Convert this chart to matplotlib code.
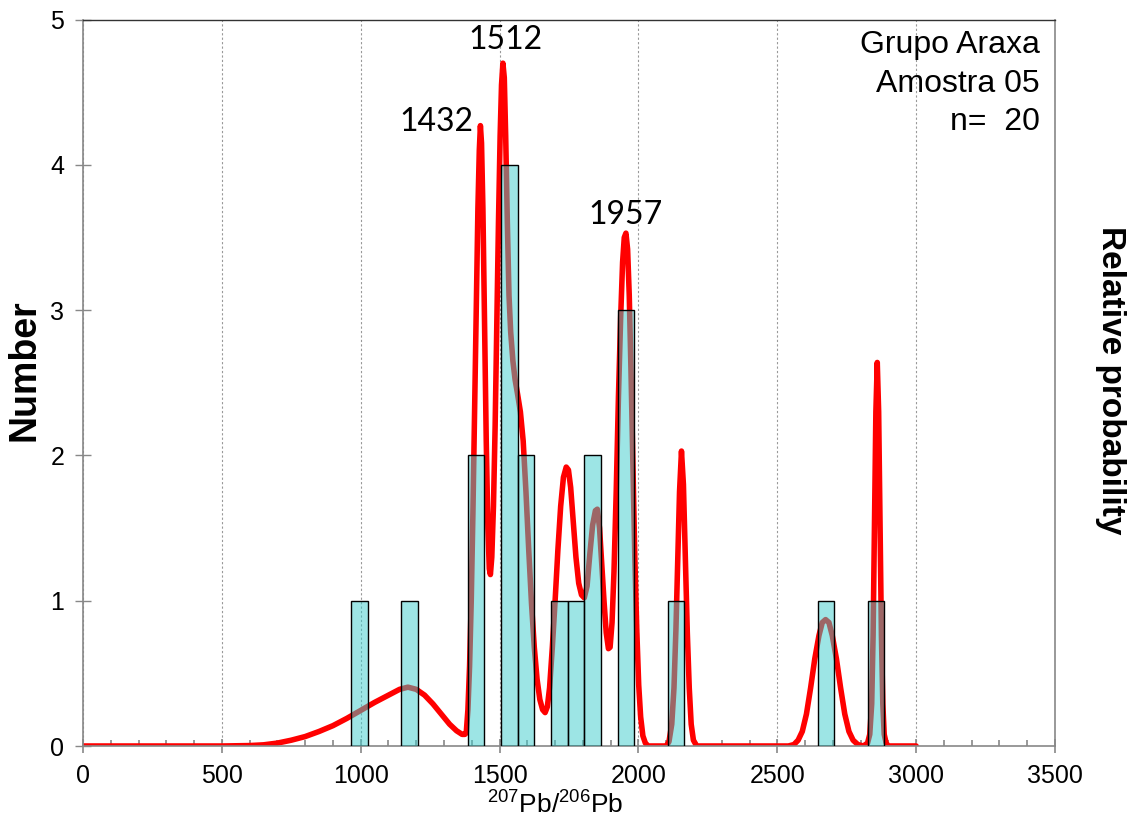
import numpy as np
import matplotlib
matplotlib.use("Agg")
import matplotlib.pyplot as plt
from matplotlib.ticker import MultipleLocator

plt.rcParams['font.family'] = ['Liberation Sans', 'DejaVu Sans']
plt.rcParams['mathtext.default'] = 'regular'

# --- histogram (bin width 60 Ma) ---
bin_left = [965, 1145, 1385, 1505, 1565, 1685, 1745, 1805, 1925, 2105, 2645, 2825]
counts = [1, 1, 2, 4, 2, 1, 1, 2, 3, 1, 1, 1]
bin_width = 60

# --- relative probability curve ---
curve_x = [0, 500, 600, 650, 700, 750, 800, 850, 900, 950, 1000, 1050, 1100, 1140,
           1170, 1200, 1230, 1260, 1290, 1320, 1345, 1365, 1375,
           1380, 1386, 1392, 1398, 1404, 1410, 1416, 1422, 1427, 1431, 1435, 1440,
           1446, 1452, 1458, 1463, 1467, 1472, 1478, 1484, 1490, 1496, 1502, 1507,
           1512, 1517, 1522, 1528, 1534, 1540, 1548, 1556, 1565, 1575, 1585,
           1595, 1605, 1615, 1625, 1635, 1645, 1655, 1664, 1672, 1680, 1690, 1700,
           1710, 1720, 1730, 1740, 1748, 1756, 1765, 1775, 1785, 1795, 1805, 1815,
           1825, 1835, 1845, 1852, 1860, 1868, 1876, 1884, 1892, 1898, 1905, 1912,
           1920, 1928, 1936, 1943, 1949, 1955, 1961, 1967, 1973, 1980, 1987, 1994,
           2001, 2008, 2016, 2025, 2035, 2100, 2110, 2120, 2128, 2135, 2142, 2148,
           2155, 2162, 2169, 2176, 2183, 2190, 2198, 2210, 2540, 2560, 2575, 2590,
           2605, 2620, 2635, 2650, 2662, 2674, 2686, 2698, 2713, 2728, 2743, 2758,
           2773, 2790, 2810, 2825, 2833, 2840, 2845, 2850, 2855, 2860, 2865, 2870,
           2875, 2880, 2885, 2892, 2900, 3000]
curve_y = [0, 0, 0.003, 0.008, 0.02, 0.04, 0.065, 0.10, 0.14, 0.19, 0.245, 0.30, 0.35, 0.39,
           0.405, 0.39, 0.35, 0.29, 0.22, 0.15, 0.105, 0.08, 0.08,
           0.09, 0.25, 0.55, 1.0, 1.6, 2.3, 3.0, 3.7, 4.1, 4.27, 4.15, 3.7,
           2.9, 2.1, 1.5, 1.22, 1.18, 1.3, 1.65, 2.2, 2.9, 3.6, 4.2, 4.55,
           4.7, 4.6, 4.2, 3.6, 3.1, 2.85, 2.65, 2.52, 2.42, 2.3, 2.1,
           1.75, 1.35, 0.98, 0.68, 0.46, 0.32, 0.25, 0.23, 0.27, 0.4, 0.68, 1.0,
           1.35, 1.65, 1.85, 1.92, 1.90, 1.78, 1.55, 1.3, 1.12, 1.04, 1.02, 1.1,
           1.32, 1.52, 1.62, 1.63, 1.5, 1.25, 1.0, 0.78, 0.67, 0.68, 0.85, 1.2,
           1.75, 2.4, 2.95, 3.33, 3.50, 3.53, 3.42, 3.1, 2.6, 1.95, 1.3, 0.8,
           0.42, 0.2, 0.07, 0.02, 0.0, 0.0, 0.03, 0.15, 0.4, 0.8, 1.3, 1.75,
           2.03, 1.8, 1.3, 0.78, 0.4, 0.15, 0.04, 0.0, 0.0, 0.01, 0.04, 0.1,
           0.22, 0.4, 0.6, 0.76, 0.85, 0.87, 0.85, 0.76, 0.6, 0.4, 0.22, 0.1,
           0.04, 0.01, 0.0, 0.02, 0.08, 0.29, 0.76, 1.52, 2.30, 2.64, 2.30, 1.52,
           0.76, 0.29, 0.08, 0.02, 0.0, 0.0]

peak_labels = ['1432', '1512', '1957']
peak_label_x = [1273, 1521, 1952]
peak_label_y = [4.23, 4.80, 3.59]

info_lines = ['Grupo Araxa', 'Amostra 05', 'n=  20']
info_y = [4.77, 4.50, 4.24]

gray = '#888888'

fig = plt.figure(figsize=(11.38, 8.23), dpi=100)
ax = fig.add_axes([83 / 1138, 77 / 823, 972 / 1138, 726.4 / 823])

ax.plot(curve_x, curve_y, color='red', lw=4.0, solid_joinstyle='round',
        solid_capstyle='round', zorder=2)
ax.bar(bin_left, counts, width=bin_width, align='edge',
       color=(0.24, 0.80, 0.80, 0.5), edgecolor='black', linewidth=1.0, zorder=3)

ax.set_xlim(0, 3500)
ax.set_ylim(0, 5)
ax.xaxis.set_major_locator(MultipleLocator(500))
ax.xaxis.set_minor_locator(MultipleLocator(100))
ax.yaxis.set_major_locator(MultipleLocator(1))
ax.grid(True, axis='x', which='major', color='#999999', linestyle=(0, (2, 2)),
        linewidth=0.8, zorder=1)
ax.set_axisbelow(True)

for side in ['left', 'right', 'bottom']:
    ax.spines[side].set_color(gray)
    ax.spines[side].set_linewidth(1.2)
ax.spines['top'].set_color('#333333')
ax.spines['top'].set_linewidth(1.0)

ax.tick_params(axis='x', which='major', direction='inout', length=10, width=1.2,
               color=gray, labelsize=18, pad=8)
ax.tick_params(axis='x', which='minor', direction='in', length=4, width=1.2,
               color=gray)
ax.tick_params(axis='y', which='major', direction='inout', length=11, width=1.0,
               color=gray, labelsize=18, pad=8)

ax.set_xlabel(r'$^{207}$Pb/$^{206}$Pb', fontsize=19)
ax.xaxis.set_label_coords(0.4856, -0.062)
ax.set_ylabel('Number', fontsize=27, fontweight='bold', va='center')
ax.yaxis.set_label_coords(-0.0597, 0.518)

ax2 = ax.twinx()
ax2.set_yticks([])
for s in ax2.spines.values():
    s.set_visible(False)
ax2.set_ylabel('Relative probability', fontsize=24, fontweight='bold',
               rotation=270, va='center', ha='center')
ax2.yaxis.set_label_coords(1.0566, 0.504)

for lab, lx, ly in zip(peak_labels, peak_label_x, peak_label_y):
    ax.text(lx, ly, lab, fontsize=23, family=['Lato', 'DejaVu Sans'],
            ha='center', va='baseline', zorder=5)

for line, ly in zip(info_lines, info_y):
    ax.text(3446, ly, line, fontsize=23, ha='right', va='baseline', zorder=5)

fig.savefig('out.png', dpi=100)
